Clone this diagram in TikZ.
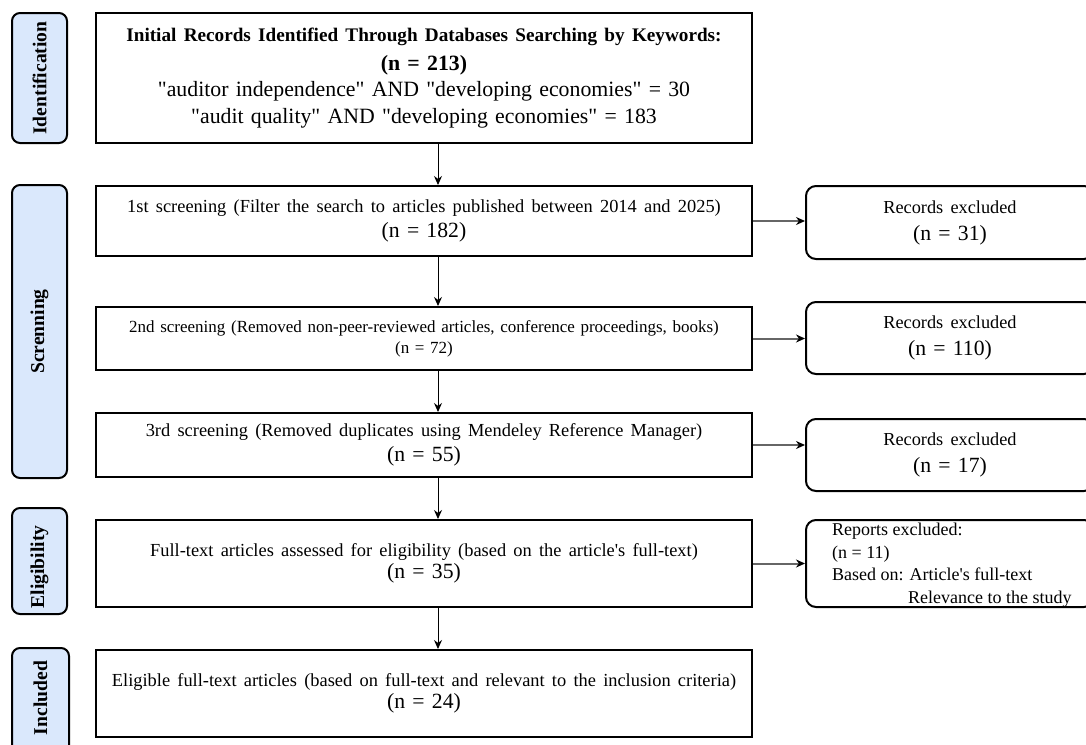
\documentclass[tikz,border=0pt]{standalone}
\usepackage{fontspec}
\setmainfont{Liberation Serif}[Ligatures=TeXOff]
\usetikzlibrary{arrows.meta}
\definecolor{lblue}{HTML}{DAE8FC}
\begin{document}
\begin{tikzpicture}[x=1pt,y=-1pt,
  mainbox/.style={draw=black, line width=2pt, fill=white, minimum width=656pt, inner sep=0pt, align=center, text width=650pt},
  sidebox/.style={draw=black, line width=2pt, fill=white, rounded corners=10pt, minimum width=288pt, inner sep=0pt, align=center, text width=280pt},
  phase/.style={draw=black, line width=2pt, fill=lblue, rounded corners=8pt, rotate=90, minimum height=55pt, inner sep=0pt, font=\fontsize{19.6}{20}\selectfont\bfseries},
  varrow/.style={line width=1pt, -{Stealth[length=9pt,width=8pt]}},
  harrow/.style={draw=black!60, line width=2pt, -{Stealth[length=9pt,width=8pt,color=black]}}
]
\useasboundingbox (0,0) rectangle (1086,744);
\clip (0,0) rectangle (1086,744);
\fill[white] (0,0) rectangle (1086,744);

% phase labels
\node[phase, minimum width=130pt] (p1) at (39.5,78) {Identification};
\node[phase, minimum width=293pt] (p2) at (39.5,331.5) {Screnning};
\node[phase, minimum width=106pt] (p3) at (39.5,561) {\hspace*{-12pt}Eligibility};
\node[phase, minimum width=116pt, minimum height=57pt] (p4) at (40.5,706) {\hspace*{16pt}Included};

% main boxes
\node[mainbox, line width=2.5pt, minimum height=130pt, font=\fontsize{21.8}{26.5}\selectfont] (b1) at (424,78)
  {{\fontsize{19.2}{26}\selectfont\bfseries Initial Records Identified Through Databases Searching by Keywords:}\\[2pt]
   {\bfseries (n = 213)}\\
   "auditor independence" AND "developing economies" = 30\\
   "audit quality" AND "developing economies" = 183};

\node[mainbox, minimum height=70pt, font=\fontsize{21.7}{25}\selectfont] (b2) at (424,221)
  {{\fontsize{18.4}{25}\selectfont 1st screening (Filter the search to articles published between 2014 and 2025)}\\
   (n = 182)};

\node[mainbox, minimum height=63pt, font=\fontsize{17}{21}\selectfont] (b3) at (424,338.5)
  {2nd screening (Removed non-peer-reviewed articles, conference proceedings, books)\\
   (n = 72)};

\node[mainbox, minimum height=64pt, font=\fontsize{21.7}{25}\selectfont] (b4) at (424,445)
  {{\fontsize{18.4}{25}\selectfont 3rd screening (Removed duplicates using Mendeley Reference Manager)}\\
   (n = 55)};

\node[mainbox, minimum height=87pt, font=\fontsize{21.7}{22}\selectfont] (b5) at (424,563.5)
  {{\fontsize{18.4}{22}\selectfont Full-text articles assessed for eligibility (based on the article's full-text)}\\
   (n = 35)};

\node[mainbox, minimum height=87pt, font=\fontsize{21.7}{22}\selectfont] (b6) at (424,693.5)
  {{\fontsize{18.4}{22}\selectfont Eligible full-text articles (based on full-text and relevant to the inclusion criteria)}\\
   (n = 24)};

% side boxes
\node[sidebox, minimum height=73pt, font=\fontsize{21.7}{27}\selectfont] (r1) at (950,222.5)
  {{\fontsize{18.3}{27}\selectfont Records excluded}\\ (n = 31)};
\node[sidebox, minimum height=72pt, font=\fontsize{21.7}{27}\selectfont] (r2) at (950,338)
  {{\fontsize{18.3}{27}\selectfont Records excluded}\\ (n = 110)};
\node[sidebox, minimum height=72pt, font=\fontsize{21.7}{27}\selectfont] (r3) at (950,455)
  {{\fontsize{18.3}{27}\selectfont Records excluded}\\ (n = 17)};
\node[sidebox, minimum height=87pt] (r4) at (950,563.5) {};
\node[anchor=north west, inner sep=0pt, align=left, font=\fontsize{18}{22.5}\selectfont] (r4t) at (832,523)
  {Reports excluded:\\ (n = 11)\\ Based on: Article's full-text\\ \hspace*{76pt}Relevance to the study};

% connectors
\coordinate (ax) at (438,0);
\draw[varrow] (b1.south -| ax) -- (b2.north -| ax);
\draw[varrow] (b2.south -| ax) -- (b3.north -| ax);
\draw[varrow] (b3.south -| ax) -- (b4.north -| ax);
\draw[varrow] (b4.south -| ax) -- (b5.north -| ax);
\draw[varrow] (b5.south -| ax) -- (b6.north -| ax);

\draw[harrow] (b2.east) -- (r1.west |- b2.east);
\draw[harrow] (b3.east) -- (r2.west |- b3.east);
\draw[harrow] (b4.east) -- (r3.west |- b4.east);
\draw[harrow] (b5.east) -- (r4.west |- b5.east);
\end{tikzpicture}
\end{document}
